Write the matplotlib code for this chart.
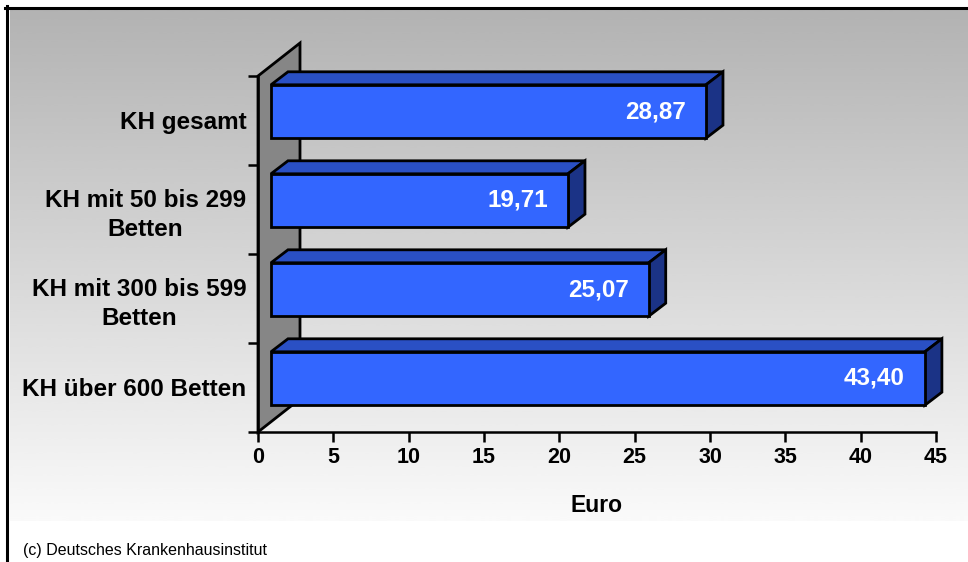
import numpy as np
import matplotlib.pyplot as plt
from matplotlib.patches import Polygon, Rectangle
from matplotlib.lines import Line2D

categories = ['KH gesamt', 'KH mit 50 bis 299\nBetten', 'KH mit 300 bis 599\nBetten', 'KH über 600 Betten']
values = [28.87, 19.71, 25.07, 43.40]
xticks = [0, 5, 10, 15, 20, 25, 30, 35, 40, 45]
xlabel = 'Euro'
footer = '(c) Deutsches Krankenhausinstitut'

front_col = '#3366ff'
top_col = '#2a50c4'
side_col = '#1b3386'
wall_col = '#868686'

plt.rcParams['font.family'] = ['Liberation Sans', 'DejaVu Sans']

W, H = 968, 562
fig = plt.figure(figsize=(W / 100, H / 100), dpi=100)
fig.patch.set_facecolor('white')

# grey-to-white gradient behind the plot
bg = fig.add_axes([10 / W, (H - 521) / H, (W - 10) / W, (521 - 9) / H])
grad = 0.70 + np.linspace(0, 1, 256).reshape(-1, 1) * (0.98 - 0.70)
bg.imshow(grad, aspect='auto', cmap='gray', vmin=0, vmax=1,
          extent=[0, 1, 0, 1], origin='upper', interpolation='bicubic')
bg.set_axis_off()

# outer frame (left and top edges)
fig.add_artist(Line2D([6.5 / W, 6.5 / W], [0, 1 - 6 / H], transform=fig.transFigure,
                      color='black', lw=2.2))
fig.add_artist(Line2D([5 / W, 1], [1 - 7.5 / H, 1 - 7.5 / H], transform=fig.transFigure,
                      color='black', lw=2.2))

x0, x1, ytop, ybot = 258, 936, 76, 432
ax = fig.add_axes([x0 / W, (H - ybot) / H, (x1 - x0) / W, (ybot - ytop) / H])
ax.patch.set_alpha(0)
ax.set_xlim(0, 45)
ax.set_ylim(len(categories) - 0.5, -0.5)

ux = (x1 - x0) / 45.0
uy = (ybot - ytop) / len(categories)


def off(dx, dy):
    # pixel depth offset -> data units
    return dx / ux, -dy / uy


# side wall
wdx, wdy = off(42, 33)
y_lo, y_hi = len(categories) - 0.5, -0.5
wall = Polygon([(0, y_lo), (0, y_hi), (wdx, y_hi + wdy), (wdx, y_lo + wdy)],
               closed=True, facecolor=wall_col, edgecolor='black', lw=2,
               joinstyle='miter', clip_on=False, zorder=1)
ax.add_patch(wall)

# 3D bars
fx, fy = off(13, 9)
bx, by = off(30, 22)
half = 0.3
for i, v in enumerate(values):
    top = i - half + fy
    bot = i + half + fy
    ax.add_patch(Polygon([(fx, top), (v + fx, top), (v + bx, top - fy + by), (bx, top - fy + by)],
                         closed=True, facecolor=top_col, edgecolor='black', lw=2,
                         joinstyle='miter', clip_on=False, zorder=3))
    ax.add_patch(Polygon([(v + fx, top), (v + fx, bot), (v + bx, bot - fy + by), (v + bx, top - fy + by)],
                         closed=True, facecolor=side_col, edgecolor='black', lw=2,
                         joinstyle='miter', clip_on=False, zorder=3))
    ax.add_patch(Rectangle((fx, top), v, bot - top, facecolor=front_col,
                           edgecolor='black', lw=2, joinstyle='miter', clip_on=False, zorder=4))
    ax.annotate(f'{v:.2f}'.replace('.', ','), xy=(v + fx, i + fy), xytext=(-20, 0),
                textcoords='offset pixels', ha='right', va='center', color='white',
                fontsize=17.5, fontweight='bold', zorder=5)

# axes styling
for s in ['top', 'right']:
    ax.spines[s].set_visible(False)
for s in ['left', 'bottom']:
    ax.spines[s].set_linewidth(1.8)
    ax.spines[s].set_zorder(2)

ax.set_xticks(xticks)
ax.set_xticklabels([str(t) for t in xticks], fontsize=15.5, fontweight='bold')
ax.tick_params(axis='x', length=7, width=1.8, pad=4, direction='out')

ax.set_yticks(np.arange(len(categories) + 1) - 0.5)
ax.set_yticklabels([])
ax.tick_params(axis='y', which='major', length=7, width=1.8, direction='out')
ax.set_yticks(range(len(categories)), minor=True)
ax.set_yticklabels(categories, minor=True, fontsize=17.5, fontweight='bold',
                   linespacing=1.35)
ax.tick_params(axis='y', which='minor', length=0, pad=8.5)
for lab in ax.get_yticklabels(minor=True):
    lab.set_multialignment('center')

ax.set_xlabel(xlabel, fontsize=16.5, fontweight='bold')
ax.xaxis.set_label_coords(0.5, -0.175)

fig.text(23 / W, 1 - 551 / H, footer, fontsize=11.5, va='center', ha='left')

fig.savefig('out.png', dpi=100)
